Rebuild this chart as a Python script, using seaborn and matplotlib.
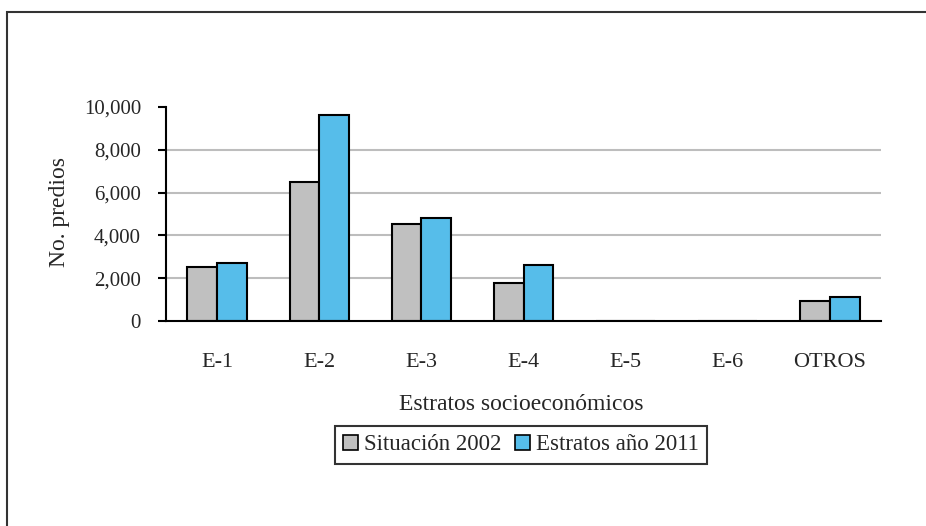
import matplotlib
matplotlib.use("Agg")
import matplotlib.pyplot as plt
from matplotlib.patches import Rectangle, Patch
from matplotlib.ticker import FuncFormatter, MultipleLocator, FixedLocator
import seaborn as sns
import pandas as pd

# Estratos y número de predios por año
categorias = ["E-1", "E-2", "E-3", "E-4", "E-5", "E-6", "OTROS"]
situacion_2002 = [2520, 6500, 4530, 1760, 0, 0, 950]
estratos_2011 = [2710, 9630, 4810, 2620, 0, 0, 1135]
series = ["Situación 2002", "Estratos año 2011"]
colores = ["#C0C0C0", "#56BDEA"]

df = pd.DataFrame({
    "estrato": categorias * 2,
    "serie": [series[0]] * len(categorias) + [series[1]] * len(categorias),
    "predios": situacion_2002 + estratos_2011,
})

sns.set_style("white")
plt.rcParams["font.family"] = ["Liberation Serif", "DejaVu Serif"]

fig = plt.figure(figsize=(9.26, 5.26), dpi=100)
ax = fig.add_axes([166 / 926, 1 - 321 / 526, (881 - 166) / 926, (321 - 107) / 526])

sns.barplot(
    data=df, x="estrato", y="predios", hue="serie", order=categorias,
    hue_order=series, palette=colores, saturation=1, width=0.58, gap=0,
    edgecolor="black", linewidth=1.5, ax=ax, legend=False,
)

ax.set_xlim(-0.5, len(categorias) - 0.5)
ax.set_ylim(0, 10000)
ax.yaxis.set_major_locator(MultipleLocator(2000))
ax.yaxis.set_major_formatter(FuncFormatter(lambda v, p: f"{int(v):,}"))

# Líneas de cuadrícula horizontales (sin la del máximo)
for y in range(2000, 10000, 2000):
    ax.axhline(y, color="#BDBDBD", lw=1.5, zorder=0)

for s in ["top", "right"]:
    ax.spines[s].set_visible(False)
for s in ["left", "bottom"]:
    ax.spines[s].set_color("black")
    ax.spines[s].set_linewidth(1.5)

ax.xaxis.set_minor_locator(FixedLocator([i - 0.5 for i in range(len(categorias) + 1)]))
ax.tick_params(axis="x", which="major", length=0, pad=23, labelsize=16)
ax.tick_params(axis="x", which="minor", direction="out", length=6, width=1.5, color="black")
ax.tick_params(axis="y", direction="out", length=6, width=1.5, color="black",
               pad=12, labelsize=15, left=True)

ax.set_xlabel("")
ax.set_ylabel("")
fig.text(60 / 926, 1 - 212 / 526, "No. predios", rotation=90, ha="center",
         va="center", fontsize=17)
fig.text(521 / 926, 1 - 405 / 526, "Estratos socioeconómicos", ha="center",
         va="center", fontsize=17)

handles = [Patch(facecolor=c, edgecolor="black", linewidth=1.2) for c in colores]
leg = fig.legend(handles, series, loc="center", bbox_to_anchor=(521 / 926, 1 - 445 / 526),
                 ncol=2, fontsize=16.5, frameon=True, fancybox=False, handlelength=0.65,
                 handleheight=0.65, handletextpad=0.25, columnspacing=0.6,
                 borderpad=0.35, borderaxespad=0)
leg.get_frame().set_edgecolor("black")
leg.get_frame().set_linewidth(1.5)

# Marco exterior de la figura
fig.patches.append(Rectangle((7 / 926, -0.1), 1.2, 1 - 11.5 / 526 + 0.1,
                             transform=fig.transFigure, fill=False,
                             edgecolor="#333333", linewidth=1.5))

fig.savefig("out.png", dpi=100)
